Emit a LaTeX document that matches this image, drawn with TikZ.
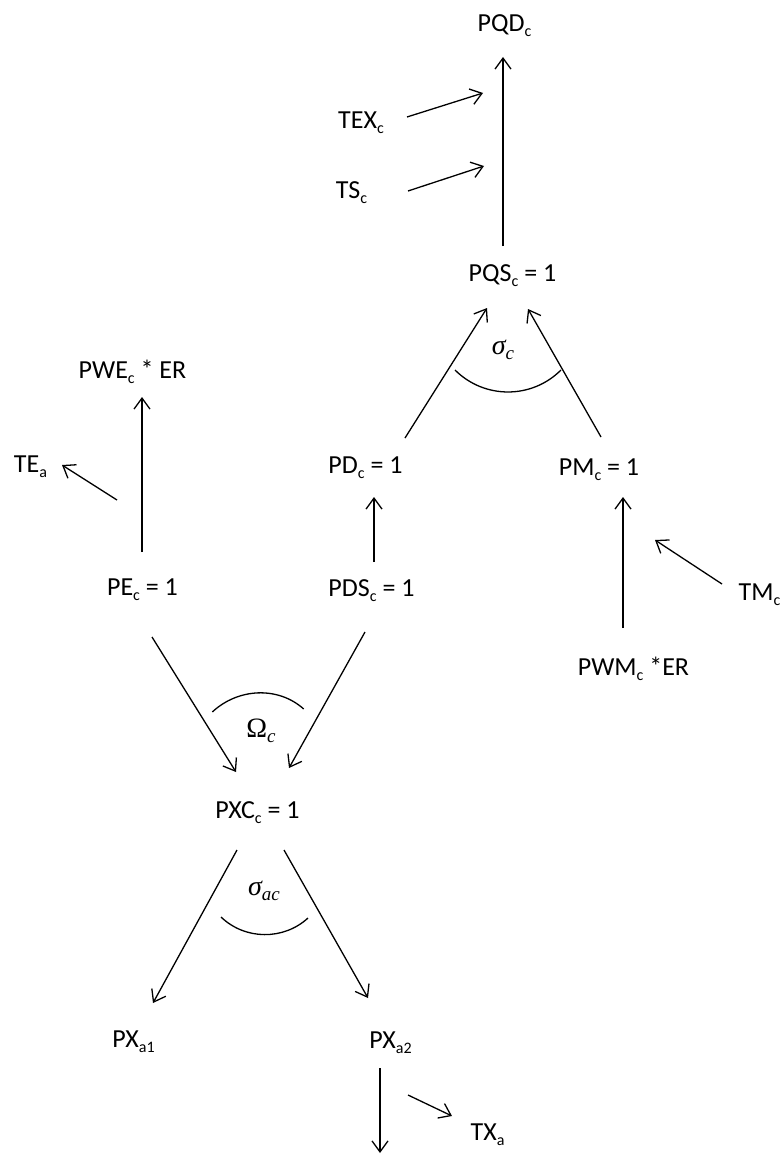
\documentclass[tikz,border=0pt]{standalone}
\usepackage{fontspec}
\setmainfont{Carlito}
\newfontfamily\grk{Liberation Serif}
\usetikzlibrary{arrows.meta}
\newcommand\sbs[1]{\raisebox{-5pt}{\fontsize{16}{16}\selectfont #1}}
\newcommand\msb[1]{\raisebox{-5pt}{\fontsize{19}{19}\selectfont\itshape #1}}
\begin{document}
\begin{tikzpicture}[x=1pt,y=-1pt,
  lbl/.style={font=\fontsize{26}{28}\selectfont, inner sep=0pt, anchor=base},
  mlbl/.style={font=\grk\fontsize{28}{30}\selectfont, inner sep=0pt, anchor=center},
  conn/.style={line width=1.3pt, -{Straight Barb[length=11pt,width=16pt,line width=1.3pt]}},
  arcline/.style={line width=1.3pt}]
\useasboundingbox (0,0) rectangle (783,1156);
% labels
\node[lbl] (PQD) at (504.5,32) {PQD\sbs{c}};
\node[lbl] (TEX) at (361,128) {TEX\sbs{c}};
\node[lbl] (TS) at (351.5,198) {TS\sbs{c}};
\node[lbl] (PQS) at (512.5,281) {PQS\sbs{c} = 1};
\node[lbl] (PD) at (365.5,473) {PD\sbs{c} = 1};
\node[lbl] (PM) at (599,475) {PM\sbs{c} = 1};
\node[lbl] (PWE) at (132.5,378) {PWE\sbs{c} * ER};
\node[lbl] (TE) at (30.5,472) {TE\sbs{a}};
\node[lbl] (PE) at (142.5,595) {PE\sbs{c} = 1};
\node[lbl] (PDS) at (371.5,596) {PDS\sbs{c} = 1};
\node[lbl] (TM) at (759.5,600) {TM\sbs{c}};
\node[lbl] (PWM) at (633.5,675) {PWM\sbs{c} *ER};
\node[lbl] (PXC) at (257.5,818) {PXC\sbs{c} = 1};
\node[lbl] (PXa1) at (133.5,1047) {PX\sbs{a1}};
\node[lbl] (PXa2) at (390.5,1048) {PX\sbs{a2}};
\node[lbl] (TX) at (487.5,1140) {TX\sbs{a}};
\node[mlbl] (sigc) at (503,350) {\itshape σ\msb{c}};
\node[mlbl] (omc) at (261,731) {Ω\msb{c}};
\node[mlbl] (sigac) at (264,891) {\itshape σ\msb{ac}};
% connector end points
\coordinate (q1) at (503,246);  \coordinate (q2) at (503,57);
\coordinate (tex1) at (407,117); \coordinate (tex2) at (483,93);
\coordinate (ts1) at (408,191); \coordinate (ts2) at (484,166);
\coordinate (pd1) at (405,438); \coordinate (pd2) at (487,308);
\coordinate (pm1) at (601,437); \coordinate (pm2) at (528,309);
\coordinate (pe1) at (142,552); \coordinate (pe2) at (142,397);
\coordinate (te1) at (117,500); \coordinate (te2) at (62,465);
\coordinate (pds1) at (374,562); \coordinate (pds2) at (374,497);
\coordinate (pwm1) at (623,628); \coordinate (pwm2) at (623,497);
\coordinate (tm1) at (722,584); \coordinate (tm2) at (655,540);
\coordinate (pex1) at (152,637); \coordinate (pex2) at (236,772);
\coordinate (pdx1) at (365,632); \coordinate (pdx2) at (289,768);
\coordinate (x11) at (237,850); \coordinate (x12) at (153,1003);
\coordinate (x21) at (284,850); \coordinate (x22) at (368,998);
\coordinate (d1) at (380,1068); \coordinate (d2) at (380,1153);
\coordinate (tx1) at (408,1095); \coordinate (tx2) at (452,1116);
% connectors
\draw[conn] (q1) -- (q2);
\draw[conn] (tex1) -- (tex2);
\draw[conn] (ts1) -- (ts2);
\draw[conn] (pd1) -- (pd2);
\draw[conn] (pm1) -- (pm2);
\draw[conn] (pe1) -- (pe2);
\draw[conn] (te1) -- (te2);
\draw[conn] (pds1) -- (pds2);
\draw[conn] (pwm1) -- (pwm2);
\draw[conn] (tm1) -- (tm2);
\draw[conn] (pex1) -- (pex2);
\draw[conn] (pdx1) -- (pdx2);
\draw[conn] (x11) -- (x12);
\draw[conn] (x21) -- (x22);
\draw[conn] (d1) -- (d2);
\draw[conn] (tx1) -- (tx2);
% elasticity arcs
\draw[arcline] (455,370) .. controls (484.3,399.3) and (531.7,399.3) .. (561,370);
\draw[arcline] (212.3,712) .. controls (238,688) and (278,686) .. (303.7,709);
\draw[arcline] (221,917) .. controls (245.3,940.3) and (283.7,940.3) .. (308,918);
\end{tikzpicture}
\end{document}
